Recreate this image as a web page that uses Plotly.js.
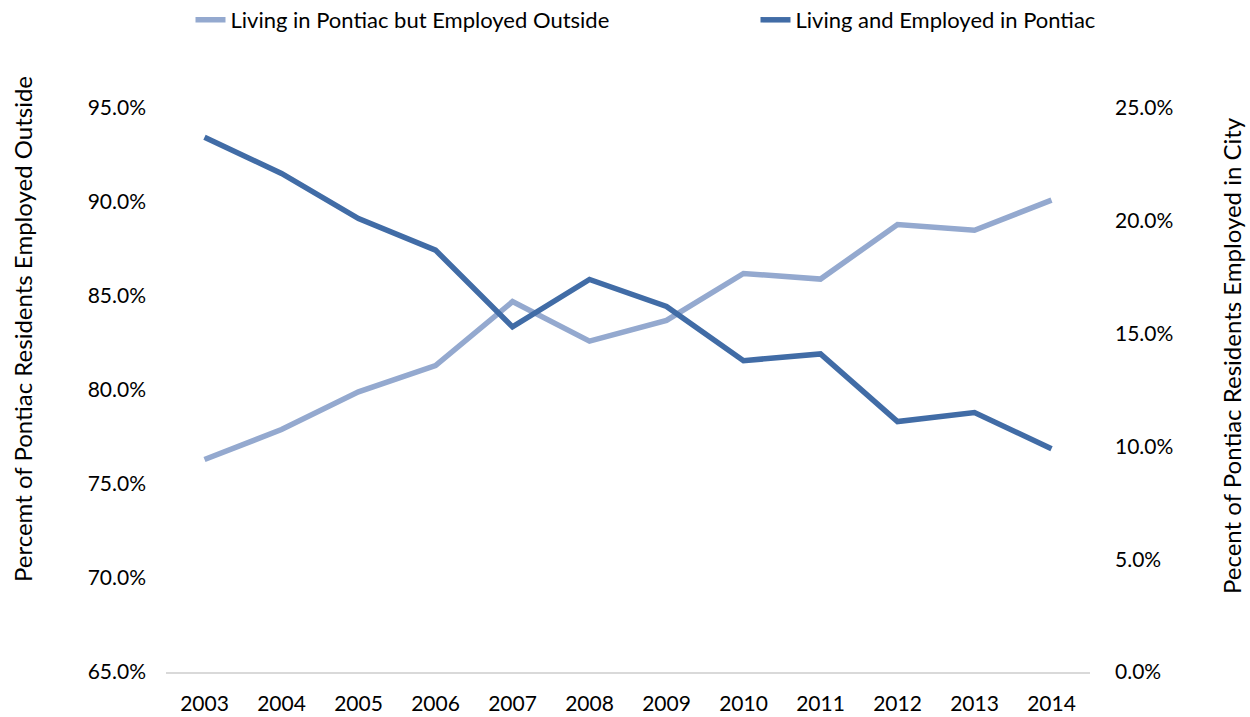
<!DOCTYPE html>
<html>
<head>
<meta charset="utf-8">
<script src="https://cdn.plot.ly/plotly-3.0.1.min.js"></script>
<style>html,body{margin:0;padding:0;background:#fff;}#chart{width:1250px;height:717px;}</style>
</head>
<body>
<div id="chart"></div>
<script>
var years = ["2003","2004","2005","2006","2007","2008","2009","2010","2011","2012","2013","2014"];
var employedOutside = [76.3, 77.9, 79.9, 81.3, 84.7, 82.6, 83.7, 86.2, 85.9, 88.8, 88.5, 90.1];
var employedInCity = [23.7, 22.1, 20.1, 18.7, 15.3, 17.4, 16.2, 13.8, 14.1, 11.1, 11.5, 9.9];
var seriesNames = ["Living in Pontiac but Employed Outside", "Living and Employed in Pontiac"];
var leftTitle = "Percemt of Pontiac Residents Employed Outside";
var rightTitle = "Pecent of Pontiac Residents Employed in City";

var font = "Lato, 'Open Sans', sans-serif";
var traces = [
  {x: years, y: employedOutside, name: seriesNames[0], type: "scatter", mode: "lines",
   line: {color: "#94A9CF", width: 5.5}, yaxis: "y", legend: "legend"},
  {x: years, y: employedInCity, name: seriesNames[1], type: "scatter", mode: "lines",
   line: {color: "#416CA6", width: 5.5}, yaxis: "y2", legend: "legend2"}
];
var legendFont = {size: 22, family: font, color: "#000"};
var layout = {
  width: 1250, height: 717,
  margin: {l: 166, r: 160, t: 108, b: 45},
  paper_bgcolor: "#fff", plot_bgcolor: "#fff",
  font: {family: font, color: "#000", size: 21},
  showlegend: true,
  legend: {orientation: "h", xref: "container", yref: "container", x: 190.5 / 1250, xanchor: "left",
           y: 1 - 20 / 717, yanchor: "middle", font: legendFont},
  legend2: {orientation: "h", xref: "container", yref: "container", x: 755.5 / 1250, xanchor: "left",
            y: 1 - 20 / 717, yanchor: "middle", font: legendFont},
  xaxis: {type: "category", range: [-0.5, 11.5], showgrid: false, zeroline: false, showline: true,
          linecolor: "#D9D9D9", linewidth: 2, ticks: "", ticklabelstandoff: 12,
          tickfont: {size: 21, family: font}, fixedrange: true},
  yaxis: {range: [65, 95], dtick: 5, tick0: 65, tickformat: ".1f", ticksuffix: "%",
          showgrid: false, zeroline: false, showline: false, ticks: "",
          ticklabelstandoff: 19, tickfont: {size: 21, family: font}},
  yaxis2: {range: [0, 25], dtick: 5, tick0: 0, tickformat: ".1f", ticksuffix: "%",
           overlaying: "y", side: "right", showgrid: false, zeroline: false,
           showline: false, ticks: "", ticklabelstandoff: 24, tickfont: {size: 21, family: font}},
  annotations: [
    {text: leftTitle, xref: "paper", yref: "paper", x: (22 - 166) / 924, y: (672 - 329) / 564,
     xanchor: "center", yanchor: "middle", textangle: -90, showarrow: false,
     font: {size: 24, family: font, color: "#000"}},
    {text: rightTitle, xref: "paper", yref: "paper", x: (1231 - 166) / 924, y: (672 - 356) / 564,
     xanchor: "center", yanchor: "middle", textangle: -90, showarrow: false,
     font: {size: 24, family: font, color: "#000"}}
  ]
};
Plotly.newPlot("chart", traces, layout, {displayModeBar: false, staticPlot: true});
</script>
</body>
</html>
